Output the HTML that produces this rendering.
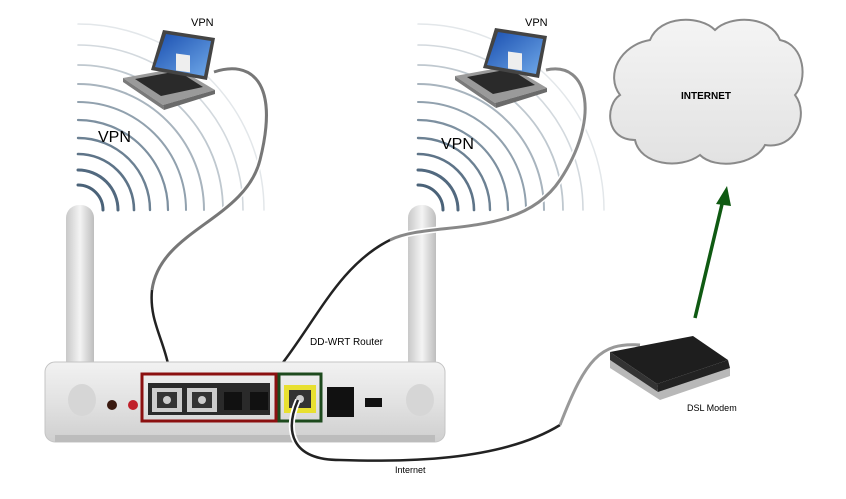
<!DOCTYPE html>
<html><head><style>
body{margin:0;background:#fff;}
svg{display:block;font-family:"Liberation Sans",sans-serif;}
</style></head><body>
<svg width="846" height="499" viewBox="0 0 846 499" xmlns="http://www.w3.org/2000/svg">
<defs>
<linearGradient id="ant" x1="0" x2="1"><stop offset="0" stop-color="#c8c8c8"/><stop offset=".5" stop-color="#f4f4f4"/><stop offset="1" stop-color="#bdbdbd"/></linearGradient>
<linearGradient id="body" x1="0" y1="0" x2="0" y2="1"><stop offset="0" stop-color="#f2f2f2"/><stop offset=".5" stop-color="#e2e2e2"/><stop offset="1" stop-color="#cfcfcf"/></linearGradient>
<linearGradient id="scr" x1="0" y1="0" x2="1" y2="1"><stop offset="0" stop-color="#1a4fb0"/><stop offset="1" stop-color="#6fa8e8"/></linearGradient>
<linearGradient id="cloud" x1="0" y1="0" x2="0" y2="1"><stop offset="0" stop-color="#f4f4f4"/><stop offset="1" stop-color="#e2e2e2"/></linearGradient>
<g id="waves" fill="none" stroke-linecap="round">
<path d="M0,-25 A25,25 0 0 1 25,0" stroke="#4a6278" stroke-width="3"/>
<path d="M0,-40 A40,40 0 0 1 40,0" stroke="#52697f" stroke-width="3"/>
<path d="M0,-56 A56,56 0 0 1 56,0" stroke="#5e7488" stroke-width="2.6"/>
<path d="M0,-72 A72,72 0 0 1 72,0" stroke="#6c8193" stroke-width="2.4"/>
<path d="M0,-90 A90,90 0 0 1 90,0" stroke="#7d90a0" stroke-width="2.2"/>
<path d="M0,-108 A108,108 0 0 1 108,0" stroke="#91a1ae" stroke-width="2"/>
<path d="M0,-126 A126,126 0 0 1 126,0" stroke="#a8b4be" stroke-width="2"/>
<path d="M0,-145 A145,145 0 0 1 145,0" stroke="#bfc8cf" stroke-width="1.8"/>
<path d="M0,-165 A165,165 0 0 1 165,0" stroke="#d3d9de" stroke-width="1.6"/>
<path d="M0,-186 A186,186 0 0 1 186,0" stroke="#e3e7ea" stroke-width="1.5"/>
</g>
<g id="laptop">
<polygon points="0,48 55,38 92,60 40,75" fill="#9a9a9a"/>
<polygon points="40,75 92,60 92,64 41,80" fill="#6a6a6a"/>
<polygon points="0,48 40,75 41,80 0,52" fill="#7a7a7a"/>
<polygon points="12,49 55,41 80,57 38,66" fill="#2a2a2a"/>
<polygon points="40,0 92,8 84,50 28,40" fill="#444"/>
<polygon points="43,4 88,11 81,46 32,37" fill="url(#scr)"/>
<rect x="53" y="16" width="14" height="17" fill="#eee" transform="skewY(8)"/>
</g>
</defs>

<use href="#waves" transform="translate(78,210)"/>
<use href="#waves" transform="translate(418,210)"/>

<use href="#laptop" transform="translate(123,30)"/>
<use href="#laptop" transform="translate(455,28)"/>

<text x="98" y="142" font-size="16">VPN</text>
<text x="441" y="149" font-size="16">VPN</text>
<text x="191" y="26" font-size="11">VPN</text>
<text x="525" y="26" font-size="11">VPN</text>

<rect x="66" y="205" width="28" height="190" rx="13" fill="url(#ant)"/>
<rect x="408" y="205" width="28" height="190" rx="13" fill="url(#ant)"/>

<!-- laptop cables -->
<path d="M214,72 C250,60 280,80 260,160 C245,220 160,230 152,290 C148,330 175,350 170,400" fill="none" stroke="#fff" stroke-width="6"/>
<path d="M214,72 C250,60 280,80 260,160 C245,220 160,230 152,290" fill="none" stroke="#777" stroke-width="3"/>
<path d="M152,290 C148,330 175,350 170,400" fill="none" stroke="#222" stroke-width="2.5"/>
<path d="M546,70 C590,60 600,120 560,180 C520,240 430,220 390,240 C330,270 310,340 255,395" fill="none" stroke="#fff" stroke-width="6"/>
<path d="M546,70 C590,60 600,120 560,180 C520,240 430,220 390,240" fill="none" stroke="#888" stroke-width="3"/>
<path d="M390,240 C330,270 310,340 255,395" fill="none" stroke="#222" stroke-width="2.5"/>

<rect x="45" y="362" width="400" height="80" rx="10" fill="url(#body)" stroke="#c4c4c4"/>
<rect x="55" y="435" width="380" height="7" fill="#bcbcbc"/>
<ellipse cx="82" cy="400" rx="14" ry="16" fill="#d6d6d6"/>
<ellipse cx="420" cy="400" rx="14" ry="16" fill="#d6d6d6"/>
<circle cx="112" cy="405" r="5" fill="#3a1a10"/>
<circle cx="133" cy="405" r="5" fill="#c0202a"/>
<rect x="148" y="383" width="122" height="32" fill="#2a2a2a"/>
<rect x="152" y="388" width="30" height="24" fill="#ccc"/><rect x="157" y="392" width="20" height="16" fill="#333"/><circle cx="167" cy="400" r="4" fill="#ccc"/>
<rect x="187" y="388" width="30" height="24" fill="#ccc"/><rect x="192" y="392" width="20" height="16" fill="#333"/><circle cx="202" cy="400" r="4" fill="#ccc"/>
<rect x="224" y="392" width="18" height="18" fill="#111"/><rect x="250" y="392" width="18" height="18" fill="#111"/>
<rect x="142" y="374" width="134" height="47" fill="none" stroke="#8b1010" stroke-width="3"/>
<rect x="284" y="385" width="32" height="28" fill="#e8e030"/><rect x="289" y="390" width="22" height="18" fill="#333"/><circle cx="300" cy="399" r="4" fill="#ccc"/>
<rect x="279" y="374" width="42" height="47" fill="none" stroke="#1d4a1d" stroke-width="3"/>
<rect x="327" y="387" width="27" height="30" fill="#111"/>
<rect x="365" y="398" width="17" height="9" fill="#111"/>
<text x="310" y="345" font-size="10">DD-WRT Router</text>

<path d="M298,400 C285,430 290,460 340,460 C400,462 520,460 570,420 C590,350 600,340 640,345" fill="none" stroke="#fff" stroke-width="6"/>
<path d="M298,400 C285,430 290,460 340,460 C400,462 500,462 560,425" fill="none" stroke="#222" stroke-width="2.5"/>
<path d="M560,425 C585,360 600,342 640,345" fill="none" stroke="#999" stroke-width="3"/>
<text x="395" y="473" font-size="9">Internet</text>

<polygon points="610,360 658,392 730,368 730,376 660,400 610,368" fill="#b8b8b8"/>
<polygon points="610,352 693,336 728,360 657,384" fill="#1e1e1e"/>
<polygon points="610,352 657,384 658,392 610,360" fill="#333"/>
<polygon points="657,384 728,360 730,368 658,392" fill="#222"/>
<text x="687" y="411" font-size="9">DSL Modem</text>

<line x1="695" y1="318" x2="723" y2="200" stroke="#0f5a12" stroke-width="3.5"/>
<polygon points="727,186 716,204 731,206" fill="#0f5a12"/>

<path d="M650,40 C660,15 700,15 715,30 C730,15 770,15 780,40 C805,45 808,80 795,95 C810,115 795,150 765,145 C755,165 715,170 700,155 C680,170 640,165 635,140 C605,140 605,105 620,95 C605,75 620,45 650,40 Z" fill="url(#cloud)" stroke="#8a8a8a" stroke-width="2"/>
<text x="681" y="99" font-size="10" font-weight="bold">INTERNET</text>
</svg>
</body></html>
